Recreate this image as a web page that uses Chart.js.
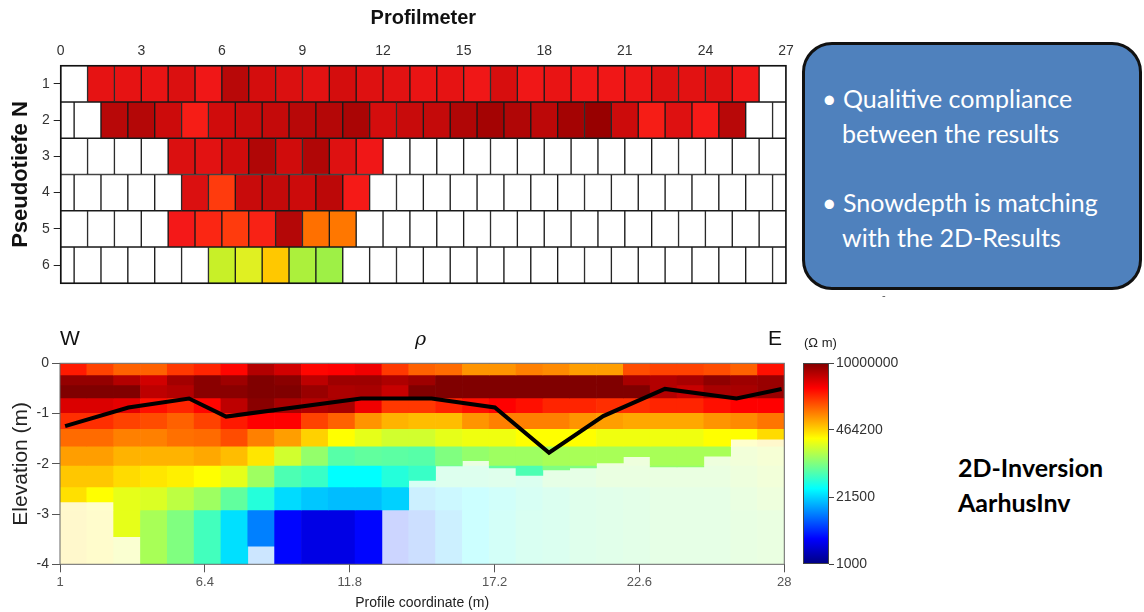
<!DOCTYPE html>
<html>
<head>
<meta charset="utf-8">
<script src="https://cdn.jsdelivr.net/npm/chart.js@4/dist/chart.umd.min.js"></script>
<style>
  html, body { margin: 0; padding: 0; background: #fff; width: 1144px; height: 612px; overflow: hidden; }
  body { position: relative; font-family: "Liberation Sans", Arial, sans-serif; }
  canvas, .lbl { position: absolute; }
  .lbl { white-space: nowrap; line-height: 1; color: #111; }
  #box {
    position: absolute; left: 802px; top: 42px; width: 334px; height: 242px;
    background: #4f81bd; border: 3px solid #111; border-radius: 30px;
  }
  .bl { position: absolute; white-space: nowrap; color: #fff; font-family: Lato, "Open Sans", sans-serif; font-size: 25px; line-height: 1; }
  .big { font-family: Lato, "Open Sans", sans-serif; font-weight: bold; font-size: 25px; color: #000; }
</style>
</head>
<body>
<canvas id="pseudo" width="800" height="300" style="left:0;top:0"></canvas>
<canvas id="model" width="800" height="312" style="left:0;top:300px"></canvas>
<canvas id="cbar" width="140" height="300" style="left:790px;top:300px"></canvas>

<div id="box"></div>
<div class="bl" style="left:822px;top:86px">• Qualitive compliance</div>
<div class="bl" style="left:842px;top:121px">between the results</div>
<div class="bl" style="left:822px;top:190px">• Snowdepth is matching</div>
<div class="bl" style="left:842px;top:225px">with the 2D-Results</div>
<div class="lbl" style="left:882px;top:290px;font-size:11px;color:#555">-</div>

<div class="lbl" style="left:60px;top:327px;font-size:21px">W</div>
<div class="lbl" style="left:415px;top:329px;font-size:19px;font-style:italic;font-family:'DejaVu Serif',serif">ρ</div>
<div class="lbl" style="left:768px;top:327px;font-size:21px">E</div>
<div class="lbl" style="left:804px;top:336px;font-size:13px;color:#222">(Ω m)</div>
<div class="lbl big" style="left:958px;top:455px">2D-Inversion</div>
<div class="lbl big" style="left:958px;top:490px">AarhusInv</div>

<script>
// ---------- Pseudosection: apparent resistivity, log10(ohm m) ----------
const pseudoLevels = [1, 2, 3, 4, 5, 6];
const profilmeterTicks = [0, 3, 6, 9, 12, 15, 18, 21, 24, 27];
const profilmeterEnd = 27;
const rowStart = [1, 1.5, 4, 4.5, 4, 5.5];
const row1 = [6.56, 6.56, 6.54, 6.62, 6.50, 6.80, 6.66, 6.62, 6.58, 6.66, 6.60, 6.58, 6.54, 6.56, 6.50, 6.64, 6.50, 6.54, 6.50, 6.50, 6.52, 6.60, 6.58, 6.60, 6.50];
const row2 = [6.80, 6.82, 6.70, 6.44, 6.68, 6.72, 6.74, 6.80, 6.82, 6.88, 6.66, 6.72, 6.74, 6.84, 6.92, 6.84, 6.78, 6.92, 7.00, 6.70, 6.44, 6.60, 6.46, 6.80];
const row3 = [6.62, 6.58, 6.68, 6.84, 6.68, 6.84, 6.60, 6.50];
const row4 = [6.62, 6.24, 6.72, 6.74, 6.70, 6.78, 6.46];
const row5 = [6.48, 6.36, 6.24, 6.40, 6.82, 6.04, 6.02];
const row6 = [5.32, 5.44, 5.80, 5.16, 5.08];
const pseudoRows = [row1, row2, row3, row4, row5, row6];

// ---------- 2D inversion model: log10(rho) per layer and column ----------
const modelColumns = [1.5, 2.5, 3.5, 4.5, 5.5, 6.5, 7.5, 8.5, 9.5, 10.5, 11.5, 12.5, 13.5, 14.5, 15.5, 16.5, 17.5, 18.5, 19.5, 20.5, 21.5, 22.5, 23.5, 24.5, 25.5, 26.5, 27.5];
const layerBounds = [0, -0.23, -0.43, -0.69, -0.98, -1.30, -1.65, -2.03, -2.46, -2.92, -4];
const layer1 = [6.40, 6.24, 6.12, 6.12, 6.28, 6.36, 6.48, 6.80, 6.68, 6.48, 6.50, 6.56, 6.28, 6.12, 6.08, 5.92, 5.92, 6.00, 5.96, 5.88, 5.88, 6.20, 6.24, 6.24, 6.20, 6.12, 6.44];
const layer2 = [6.92, 6.92, 6.80, 6.68, 6.86, 6.96, 6.88, 7.00, 6.96, 6.76, 6.88, 6.88, 6.82, 6.88, 7.00, 7.00, 7.00, 7.00, 7.00, 7.00, 7.00, 6.84, 6.80, 6.84, 6.94, 6.88, 6.90];
const layer3 = [7.00, 7.00, 7.00, 6.76, 6.80, 6.96, 6.96, 7.00, 7.00, 6.90, 6.82, 6.84, 6.72, 7.00, 7.00, 7.00, 7.00, 7.00, 7.00, 7.00, 7.00, 7.00, 6.80, 6.72, 6.84, 6.84, 6.90];
const layer4 = [6.64, 6.64, 6.60, 6.44, 6.36, 6.48, 6.76, 6.96, 6.84, 6.80, 6.84, 6.56, 6.28, 6.28, 6.36, 6.44, 6.50, 6.44, 6.36, 6.36, 6.32, 6.32, 6.36, 6.36, 6.44, 6.50, 6.50];
const layer5 = [6.32, 6.32, 6.24, 6.20, 6.12, 6.24, 6.40, 6.50, 6.50, 6.24, 6.12, 5.92, 5.80, 5.76, 5.76, 5.92, 6.00, 6.00, 6.00, 5.92, 5.88, 5.84, 5.84, 5.84, 5.92, 5.96, 6.04];
const layer6 = [6.08, 6.08, 6.00, 6.00, 6.06, 6.08, 6.20, 6.00, 5.88, 5.68, 5.50, 5.40, 5.32, 5.32, 5.40, 5.44, 5.44, 5.50, 5.50, 5.50, 5.44, 5.44, 5.44, 5.44, 5.50, 5.50, 5.64];
const layer7 = [5.88, 5.88, 5.80, 5.80, 5.80, 5.84, 5.76, 5.60, 5.32, 5.08, 4.84, 4.88, 4.86, 4.84, 5.00, 5.08, 5.12, 5.12, 5.16, 5.16, 5.16, 5.16, 5.16, 5.16, 5.16, 5.24, 5.32];
const layer8 = [5.72, 5.72, 5.64, 5.60, 5.56, 5.50, 5.40, 5.12, 4.80, 4.72, 4.50, 4.50, 4.64, 4.72, 4.84, 4.84, 4.88, 4.80, 5.00, 5.00, 5.08, 5.08, 5.08, 5.08, 5.08, 5.16, 5.24];
const layer9 = [5.62, 5.50, 5.40, 5.36, 5.24, 5.12, 4.88, 4.64, 4.36, 4.28, 4.24, 4.24, 4.32, 4.20, 4.36, 4.50, 4.60, 4.72, 4.80, 4.88, 4.92, 4.96, 5.00, 5.00, 5.00, 5.08, 5.16];
const layer10 = [5.64, 5.56, 5.40, 5.16, 5.00, 4.76, 4.38, 4.00, 3.52, 3.40, 3.40, 3.52, 3.68, 3.88, 4.20, 4.50, 4.64, 4.76, 4.80, 4.88, 4.92, 4.96, 5.00, 5.00, 5.00, 5.04, 5.08];
const modelLayers = [layer1, layer2, layer3, layer4, layer5, layer6, layer7, layer8, layer9, layer10];
// depth of investigation per column (below it the model is greyed out)
const doiDepth = [-2.76, -2.76, -3.45, -4, -4, -4, -4, -3.64, -4, -4, -4, -4, -2.92, -2.33, -2.04, -1.94, -2.08, -2.23, -2.12, -2.08, -1.98, -1.86, -2.06, -2.06, -1.85, -1.51, -1.51];
// snow depth line
const snowX = [1.19, 3.55, 5.81, 7.19, 12.22, 14.85, 17.21, 19.23, 21.25, 23.55, 26.22, 27.9];
const snowZ = [-1.25, -0.88, -0.70, -1.06, -0.70, -0.70, -0.88, -1.78, -1.05, -0.51, -0.70, -0.51];
const profileTicks = [1, 6.4, 11.8, 17.2, 22.6, 28];
const elevationTicks = [0, -1, -2, -3, -4];
const colorbarTicks = [1000, 21500, 464200, 10000000];
const rhoRange = [1000, 10000000];

// ---------- colour maps ----------
const clamp01 = v => Math.max(0, Math.min(1, v));
function jet(logRho) {
  const t = clamp01((logRho - 3) / 4);
  const r = clamp01(1.5 - Math.abs(4 * t - 3));
  const g = clamp01(1.5 - Math.abs(4 * t - 2));
  const b = clamp01(1.5 - Math.abs(4 * t - 1));
  return [r * 255, g * 255, b * 255];
}
const rgb = c => `rgb(${Math.round(c[0])},${Math.round(c[1])},${Math.round(c[2])})`;
const washed = c => c.map(v => v * 0.2 + 255 * 0.8);
const jetStops = [[0, '#000080'], [0.125, '#0000ff'], [0.375, '#00ffff'], [0.625, '#ffff00'], [0.875, '#ff0000'], [1, '#800000']];

const pseudoStops = [[5.0, '#90f050'], [5.32, '#c8f028'], [5.48, '#e8f020'], [5.8, '#ffc800'], [6.04, '#ff7000'], [6.28, '#ff3010'], [6.48, '#f41818'], [6.68, '#d00c0c'], [6.84, '#b00606'], [7.0, '#980000']];
const hex = h => [1, 3, 5].map(i => parseInt(h.substr(i, 2), 16));
function pseudoColour(v) {
  if (v <= pseudoStops[0][0]) return rgb(hex(pseudoStops[0][1]));
  for (let i = 1; i < pseudoStops.length; i++) {
    const [v1, c1] = pseudoStops[i];
    if (v <= v1) {
      const [v0, c0] = pseudoStops[i - 1];
      const f = (v - v0) / (v1 - v0);
      const a = hex(c0), b = hex(c1);
      return rgb(a.map((x, k) => x + (b[k] - x) * f));
    }
  }
  return rgb(hex(pseudoStops[pseudoStops.length - 1][1]));
}

const frame = (color, width) => ({
  id: 'frame',
  afterDatasetsDraw(chart) {
    const { ctx, chartArea: a } = chart;
    ctx.save();
    ctx.strokeStyle = color; ctx.lineWidth = width;
    ctx.strokeRect(a.left, a.top, a.right - a.left, a.bottom - a.top);
    ctx.restore();
  }
});
const fixTicks = list => scale => { scale.ticks = list.map(v => ({ value: v })); };
const baseFont = { family: '"Liberation Sans", Arial, sans-serif' };

// ---------- pseudosection chart ----------
const pseudoSets = pseudoLevels.map((level, k) => {
  const vals = pseudoRows[k];
  const start = rowStart[k];
  const shift = start % 1;
  const edges = [0];
  for (let e = shift; e < profilmeterEnd; e += 1) if (e > 0) edges.push(e);
  edges.push(profilmeterEnd);
  const data = [], fill = [];
  for (let i = 0; i < edges.length - 1; i++) {
    const a = edges[i], b = edges[i + 1];
    const idx = Math.round(a - start);
    const hasValue = Math.abs(a - start - idx) < 1e-6 && idx >= 0 && idx < vals.length;
    data.push({ x: [a, b], y: level });
    fill.push(hasValue ? pseudoColour(vals[idx]) : '#ffffff');
  }
  return {
    data, backgroundColor: fill, borderColor: '#1a1a1a', borderWidth: 1, borderSkipped: false,
    barPercentage: 1, categoryPercentage: 1, grouped: false
  };
});

new Chart(document.getElementById('pseudo'), {
  type: 'bar',
  data: { datasets: pseudoSets },
  options: {
    indexAxis: 'y', responsive: false, animation: false, devicePixelRatio: 1,
    layout: { padding: { top: 0, right: 14, bottom: 16.7, left: 0 } },
    plugins: { legend: { display: false }, tooltip: { enabled: false } },
    scales: {
      x: {
        type: 'linear', position: 'top', min: 0, max: profilmeterEnd, offset: false,
        afterBuildTicks: fixTicks(profilmeterTicks),
        afterFit: s => { s.height = 65.7; },
        grid: { display: false, drawTicks: false },
        border: { display: false },
        ticks: { padding: 6, color: '#333', font: { ...baseFont, size: 14 } },
        title: { display: true, text: 'Profilmeter', color: '#111', padding: { top: 6 }, font: { ...baseFont, size: 20, weight: 'bold' } }
      },
      y: {
        type: 'linear', min: 0.5, max: 6.5, reverse: true, offset: false,
        afterBuildTicks: fixTicks(pseudoLevels),
        afterFit: s => { s.width = 60.7; },
        grid: { drawOnChartArea: false, drawTicks: true, tickLength: 7, color: '#222', offset: false },
        border: { display: false },
        ticks: { padding: 4, color: '#333', font: { ...baseFont, size: 14 } },
        title: { display: true, text: 'Pseudotiefe N', color: '#111', padding: { top: 8 }, font: { ...baseFont, size: 22, weight: 'bold' } }
      }
    }
  },
  plugins: [frame('#111', 1.5)]
});

// ---------- inversion model chart ----------
const modelSets = [];
modelLayers.forEach((vals, k) => {
  const top = layerBounds[k], bot = layerBounds[k + 1];
  const clear = [], clearFill = [], faded = [], fadedFill = [];
  modelColumns.forEach((x, i) => {
    const c = jet(vals[i]);
    const d = doiDepth[i];
    if (top > d) { clear.push({ x, y: [top, Math.max(bot, d)] }); clearFill.push(rgb(c)); }
    if (bot < d) { faded.push({ x, y: [Math.min(top, d), bot] }); fadedFill.push(rgb(washed(c))); }
  });
  const common = { borderWidth: 0, barPercentage: 1, categoryPercentage: 1, grouped: false, order: 1 };
  modelSets.push({ ...common, data: clear, backgroundColor: clearFill });
  if (faded.length) modelSets.push({ ...common, data: faded, backgroundColor: fadedFill });
});
modelSets.push({
  type: 'line', order: -1,
  data: snowX.map((x, i) => ({ x, y: snowZ[i] })),
  borderColor: '#000', borderWidth: 4, pointRadius: 0, tension: 0, borderJoinStyle: 'miter'
});

new Chart(document.getElementById('model'), {
  type: 'bar',
  data: { datasets: modelSets },
  options: {
    responsive: false, animation: false, devicePixelRatio: 1,
    layout: { padding: { top: 63.3, right: 15.7, bottom: 0, left: 0 } },
    plugins: { legend: { display: false }, tooltip: { enabled: false } },
    scales: {
      x: {
        type: 'linear', min: 1, max: 28, offset: false,
        afterBuildTicks: fixTicks(profileTicks),
        afterFit: s => { s.height = 47.7; },
        grid: { drawOnChartArea: false, drawTicks: true, tickLength: 8, color: '#555', offset: false },
        border: { display: false },
        ticks: { padding: 2, color: '#555', font: { ...baseFont, size: 13 }, callback: v => String(v) },
        title: { display: true, text: 'Profile coordinate (m)', color: '#222', padding: { top: 0, bottom: 0 }, font: { ...baseFont, size: 14 } }
      },
      y: {
        type: 'linear', min: -4, max: 0,
        afterBuildTicks: fixTicks(elevationTicks),
        afterFit: s => { s.width = 60; },
        grid: { drawOnChartArea: false, drawTicks: true, tickLength: 8, color: '#555' },
        border: { display: false },
        ticks: { padding: 3, color: '#333', font: { ...baseFont, size: 14 } },
        title: { display: true, text: 'Elevation (m)', color: '#222', padding: { top: 9 }, font: { ...baseFont, size: 21 } }
      }
    }
  },
  plugins: [frame('#666', 1)]
});

// ---------- colour bar ----------
new Chart(document.getElementById('cbar'), {
  type: 'bar',
  data: {
    labels: ['rho'],
    datasets: [{
      data: [rhoRange],
      backgroundColor: ctx => {
        const a = ctx.chart.chartArea;
        if (!a) return '#888';
        const g = ctx.chart.ctx.createLinearGradient(0, a.bottom, 0, a.top);
        jetStops.forEach(([p, c]) => g.addColorStop(p, c));
        return g;
      },
      borderColor: '#444', borderWidth: 1, borderSkipped: false, inflateAmount: 0,
      barPercentage: 1, categoryPercentage: 1
    }]
  },
  options: {
    responsive: false, animation: false, devicePixelRatio: 1,
    layout: { padding: { top: 63, right: 0, bottom: 36, left: 13 } },
    plugins: { legend: { display: false }, tooltip: { enabled: false } },
    scales: {
      x: { display: false },
      y: {
        type: 'logarithmic', position: 'right', min: rhoRange[0], max: rhoRange[1],
        afterBuildTicks: fixTicks(colorbarTicks),
        afterFit: s => { s.width = 101; },
        grid: { drawOnChartArea: false, drawTicks: true, tickLength: 5, color: '#444' },
        border: { display: false },
        ticks: { padding: 2, color: '#333', font: { ...baseFont, size: 14 }, callback: v => String(v) }
      }
    }
  }
});
</script>
</body>
</html>
